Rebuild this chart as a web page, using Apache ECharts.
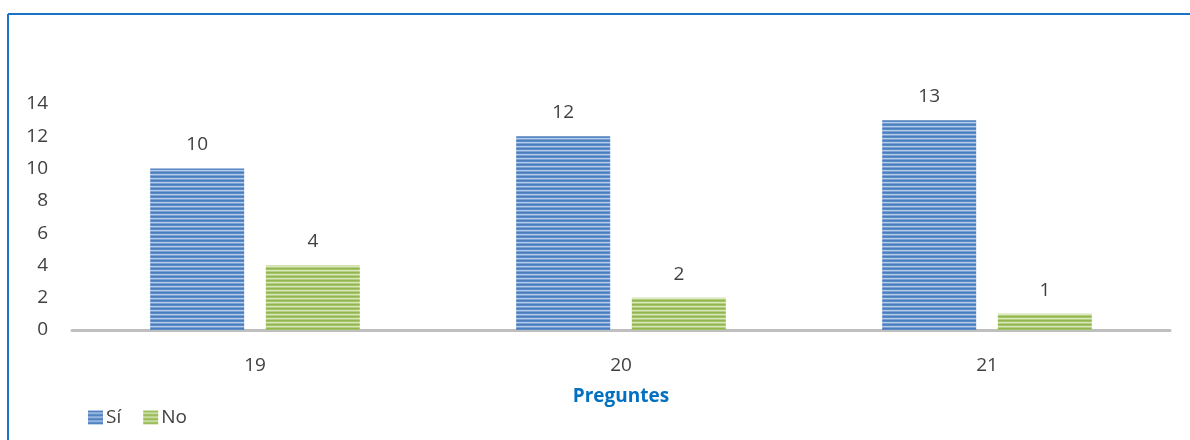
<!DOCTYPE html>
<html>
<head>
<meta charset="utf-8">
<script src="https://cdn.jsdelivr.net/npm/echarts@6/dist/echarts.min.js"></script>
<style>
  html, body { margin: 0; padding: 0; background: #fff; }
  #chart { width: 1190px; height: 440px; }
</style>
</head>
<body>
<div id="chart"></div>
<script>
var categories = ['19', '20', '21']
var seriesNames = ['Sí', 'No']
var siValues = [10, 12, 13]
var noValues = [4, 2, 1]
var yTicks = { min: 0, max: 14, interval: 2 }

// striped fill like the original (horizontal bands)
function stripes(colors) {
  var c = document.createElement('canvas')
  c.width = 4
  c.height = colors.length
  var ctx = c.getContext('2d')
  colors.forEach(function(col, i) {
    ctx.fillStyle = col
    ctx.fillRect(0, i, 4, 1)
  })
  return { image: c, repeat: 'repeat' }
}
var bluePattern = stripes(['#4a7dbb', '#5b8cc8', '#b4cbea', '#7aa0d2'])
var greenPattern = stripes(['#93b650', '#a3c466', '#dbe8bf', '#b4cf82'])

var chart = echarts.init(document.getElementById('chart'))
var font = '"Open Sans", sans-serif'
var option = {
  animation: false,
  textStyle: { fontFamily: font },
  graphic: [
    { type: 'line', shape: { x1: 8, y1: 14, x2: 8, y2: 440 }, style: { stroke: '#1a73c5', lineWidth: 2 } },
    { type: 'line', shape: { x1: 8, y1: 14, x2: 1190, y2: 14 }, style: { stroke: '#1a73c5', lineWidth: 2 } }
  ],
  grid: { left: 72, right: 20, top: 104, bottom: 110 },
  legend: {
    left: 83,
    top: 403,
    itemWidth: 15,
    itemHeight: 14,
    itemGap: 22,
    icon: 'rect',
    data: seriesNames,
    textStyle: { fontSize: 19, color: '#404040', fontFamily: font, padding: [0, 0, 0, -2] }
  },
  xAxis: {
    type: 'category',
    data: categories,
    name: 'Preguntes',
    nameLocation: 'middle',
    nameGap: 57,
    nameTextStyle: { fontSize: 19, fontWeight: 'bold', color: '#0070c0', fontFamily: font },
    axisLine: { lineStyle: { color: '#bfbfbf', width: 3 } },
    axisTick: { show: false },
    axisLabel: { fontSize: 19, color: '#404040', margin: 26, fontFamily: font }
  },
  yAxis: {
    type: 'value',
    min: yTicks.min,
    max: yTicks.max,
    interval: yTicks.interval,
    splitLine: { show: false },
    axisLine: { show: false },
    axisTick: { show: false },
    axisLabel: { fontSize: 19, color: '#404040', margin: 24, fontFamily: font }
  },
  series: [
    {
      name: seriesNames[0],
      type: 'bar',
      data: siValues,
      barWidth: 94,
      barGap: '23%',
      itemStyle: { color: bluePattern },
      label: { show: true, position: 'top', distance: 14, fontSize: 19, color: '#404040', fontFamily: font }
    },
    {
      name: seriesNames[1],
      type: 'bar',
      data: noValues,
      barWidth: 94,
      itemStyle: { color: greenPattern },
      label: { show: true, position: 'top', distance: 14, fontSize: 19, color: '#404040', fontFamily: font }
    }
  ]
}
chart.setOption(option)
window.addEventListener('resize', function() {
  chart.resize()
})
</script>
</body>
</html>
